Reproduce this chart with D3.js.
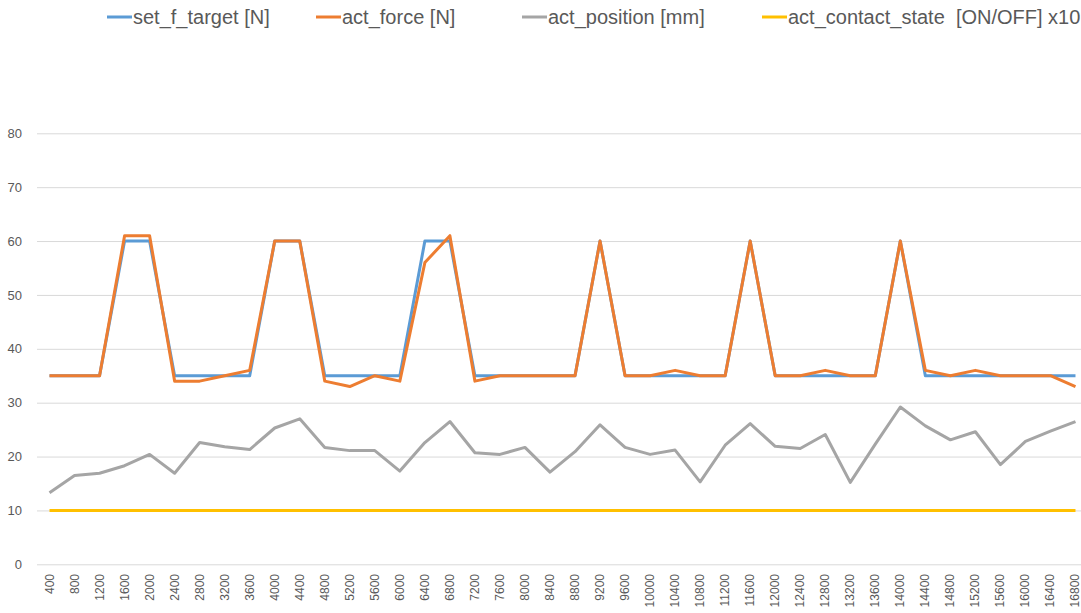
<!DOCTYPE html>
<html>
<head>
<meta charset="utf-8">
<script src="https://cdn.jsdelivr.net/npm/d3@7"></script>
<style>
  body { margin: 0; background: #fff; }
  svg { display: block; }
  text { fill: #595959; }
</style>
</head>
<body>
<div id="chart"></div>
<script>
// x categories (time steps)
const STEPS = [400, 800, 1200, 1600, 2000, 2400, 2800, 3200, 3600, 4000, 4400,
  4800, 5200, 5600, 6000, 6400, 6800, 7200, 7600, 8000, 8400, 8800, 9200,
  9600, 10000, 10400, 10800, 11200, 11600, 12000, 12400, 12800, 13200, 13600,
  14000, 14400, 14800, 15200, 15600, 16000, 16400, 16800];

const setTarget = [35, 35, 35, 60, 60, 35, 35, 35, 35, 60, 60,
  35, 35, 35, 35, 60, 60, 35, 35, 35, 35, 35, 60,
  35, 35, 35, 35, 35, 60, 35, 35, 35, 35, 35,
  60, 35, 35, 35, 35, 35, 35, 35];

const actForce = [35, 35, 35, 61, 61, 34, 34, 35, 36, 60, 60,
  34, 33, 35, 34, 56, 61, 34, 35, 35, 35, 35, 60,
  35, 35, 36, 35, 35, 60, 35, 35, 36, 35, 35,
  60, 36, 35, 36, 35, 35, 35, 33];

const actPosition = [13.3, 16.5, 16.9, 18.3, 20.4, 16.9, 22.6, 21.8, 21.3, 25.3, 27.0,
  21.7, 21.1, 21.1, 17.3, 22.6, 26.5, 20.7, 20.4, 21.7, 17.1, 20.9, 25.9,
  21.7, 20.4, 21.2, 15.3, 22.1, 26.1, 21.9, 21.5, 24.1, 15.2, 22.3,
  29.2, 25.7, 23.1, 24.6, 18.5, 22.8, 24.7, 26.5];

const contactState = STEPS.map(() => 10);

const Y_TICKS = [0, 10, 20, 30, 40, 50, 60, 70, 80];

const SERIES = [
  { name: 'set_f_target [N]', color: '#5B9BD5', values: setTarget, legendX: 107 },
  { name: 'act_force [N]', color: '#ED7D31', values: actForce, legendX: 316 },
  { name: 'act_position [mm]', color: '#A5A5A5', values: actPosition, legendX: 522 },
  { name: 'act_contact_state  [ON/OFF] x10', color: '#FFC000', values: contactState, legendX: 762 },
];

const WIDTH = 1081;
const HEIGHT = 613;
const PLOT_LEFT = 37;
const PLOT_RIGHT = 1088;
const PLOT_TOP = 133.3;
const PLOT_BOTTOM = 564.3;

const svg = d3.select('#chart')
  .append('svg')
    .attr('width', WIDTH)
    .attr('height', HEIGHT);

const x = d3.scaleBand()
  .domain(STEPS)
  .range([PLOT_LEFT, PLOT_RIGHT]);

const y = d3.scaleLinear()
  .domain([0, 80])
  .range([PLOT_BOTTOM, PLOT_TOP]);

const cx = d => x(d) + x.bandwidth() / 2;

// gridlines + y labels
const yAxis = d3.axisLeft(y)
  .tickValues(Y_TICKS)
  .tickSize(-(WIDTH - PLOT_LEFT))
  .tickPadding(15);

svg.append('g')
  .attr('transform', `translate(${PLOT_LEFT},0)`)
  .call(yAxis)
  .call(g => g.select('.domain').remove())
  .call(g => g.selectAll('.tick line').attr('stroke', '#d9d9d9'))
  .call(g => g.selectAll('.tick text')
    .attr('font-family', 'Liberation Sans, Arial, sans-serif')
    .attr('font-size', 13)
    .style('fill', '#595959'));

// x labels, rotated
svg.append('g')
  .selectAll('text')
  .data(STEPS)
  .join('text')
  .attr('transform', d => `translate(${cx(d) + 4},574) rotate(-90)`)
  .attr('text-anchor', 'end')
  .attr('font-family', 'Liberation Sans, Arial, sans-serif')
  .attr('font-size', 12)
  .text(d => d);

// series lines
const line = d3.line()
  .x((v, i) => cx(STEPS[i]))
  .y(v => y(v));

svg.append('g')
  .selectAll('path')
  .data(SERIES)
  .join('path')
  .attr('fill', 'none')
  .attr('stroke', s => s.color)
  .attr('stroke-width', 3)
  .attr('stroke-linejoin', 'round')
  .attr('d', s => line(s.values));

// legend
const legend = svg.append('g')
  .selectAll('g')
  .data(SERIES)
  .join('g')
  .attr('transform', s => `translate(${s.legendX},17)`);

legend.append('line')
  .attr('x1', 0)
  .attr('x2', 25)
  .attr('stroke', s => s.color)
  .attr('stroke-width', 3);

legend.append('text')
  .attr('x', 26)
  .attr('dy', '0.35em')
  .attr('font-family', 'Liberation Sans, Arial, sans-serif')
  .attr('font-size', 20)
  .style('white-space', 'pre')
  .text(s => s.name);
</script>
</body>
</html>
